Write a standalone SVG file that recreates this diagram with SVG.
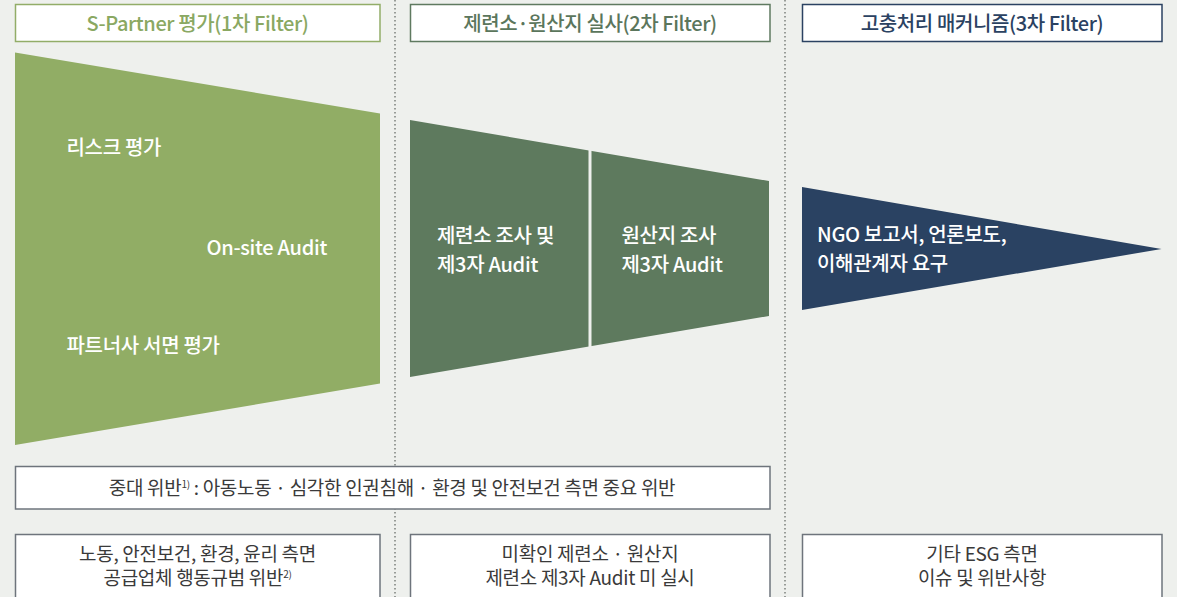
<svg xmlns="http://www.w3.org/2000/svg" width="1179" height="597" viewBox="0 0 1179 597">
<defs>
<style>
text{font-family:"Noto Sans CJK KR","Noto Sans",sans-serif;}
.hd{font-size:20px;font-weight:500;text-anchor:middle;letter-spacing:-0.4px;}
.wt{font-size:20px;font-weight:500;fill:#ffffff;letter-spacing:-0.3px;}
.bt{font-size:19px;fill:#3a3a3a;text-anchor:middle;letter-spacing:-0.3px;}
.sup{font-size:10px;}
.box{fill:#ffffff;stroke:#6e747c;stroke-width:1.5;}
.dot{stroke:#6a6e6a;stroke-width:1.3;stroke-dasharray:1.4 2.6;fill:none;}
</style>
</defs>
<rect x="0" y="0" width="1179" height="597" fill="#ffffff"/>
<rect x="0" y="0" width="1177" height="597" fill="#eef0ed"/>
<g id="connectors">
<line class="dot" x1="395" y1="0" x2="395" y2="597"/>
<line class="dot" x1="785" y1="0" x2="785" y2="597"/>
</g>
<g id="header1">
<rect x="15.5" y="4.5" width="364.5" height="37" fill="#ffffff" stroke="#92ad68" stroke-width="1.5"/>
<text class="hd" x="197.5" y="30.5" fill="#8aa862">S-Partner 평가(1차 Filter)</text>
</g>
<g id="header2">
<rect x="410.5" y="4.5" width="359.5" height="37" fill="#ffffff" stroke="#5f7a60" stroke-width="1.5"/>
<text class="hd" x="590" y="30.5" fill="#5b765c">제련소·원산지 실사(2차 Filter)</text>
</g>
<g id="header3">
<rect x="802.5" y="4.5" width="359.5" height="37" fill="#ffffff" stroke="#2b4262" stroke-width="1.5"/>
<text class="hd" x="982" y="30.5" fill="#2b4262">고충처리 매커니즘(3차 Filter)</text>
</g>
<g id="filter1">
<polygon points="15,52.5 380,113.5 380,383.5 15,445" fill="#91ad65"/>
<text class="wt" x="66.5" y="155">리스크 평가</text>
<text class="wt" x="206.5" y="254.5">On-site Audit</text>
<text class="wt" x="66.5" y="353">파트너사 서면 평가</text>
</g>
<g id="filter2">
<polygon points="410,120 769,181 769,316 410,377" fill="#5e7a5e"/>
<line x1="590" y1="140" x2="590" y2="360" stroke="#eef0ed" stroke-width="3"/>
<text class="wt" x="437" y="243">제련소 조사 및</text>
<text class="wt" x="437" y="272">제3자 Audit</text>
<text class="wt" x="621.5" y="243">원산지 조사</text>
<text class="wt" x="621.5" y="272">제3자 Audit</text>
</g>
<g id="filter3">
<polygon points="802,187 1161.5,249 802,310" fill="#2a4262"/>
<text class="wt" x="817" y="242">NGO 보고서, 언론보도,</text>
<text class="wt" x="817" y="270.5">이해관계자 요구</text>
</g>
<g id="major-violation">
<rect class="box" x="15.5" y="466.5" width="754.5" height="42.5"/>
<text class="bt" x="392" y="495">중대 위반<tspan class="sup" dy="-7">1)</tspan><tspan dy="7"> : 아동노동 · 심각한 인권침해 · 환경 및 안전보건 측면 중요 위반</tspan></text>
</g>
<g id="item1">
<rect class="box" x="15.5" y="534.5" width="364.5" height="80"/>
<text class="bt" x="197.5" y="560.5">노동, 안전보건, 환경, 윤리 측면</text>
<text class="bt" x="197.5" y="585">공급업체 행동규범 위반<tspan class="sup" dy="-7">2)</tspan></text>
</g>
<g id="item2">
<rect class="box" x="410.5" y="534.5" width="359.5" height="80"/>
<text class="bt" x="590" y="560.5">미확인 제련소 · 원산지</text>
<text class="bt" x="590" y="585">제련소 제3자 Audit 미 실시</text>
</g>
<g id="item3">
<rect class="box" x="802.5" y="534.5" width="359.5" height="80"/>
<text class="bt" x="982" y="560.5">기타 ESG 측면</text>
<text class="bt" x="982" y="585">이슈 및 위반사항</text>
</g>
</svg>
